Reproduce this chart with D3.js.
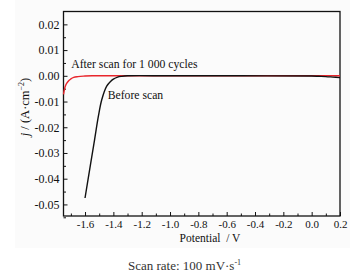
<!DOCTYPE html>
<html>
<head>
<meta charset="utf-8">
<script src="https://cdn.jsdelivr.net/npm/d3@7"></script>
<style>
  body { margin: 0; background: #fff; }
  svg text { font-family: "Liberation Serif", "Times New Roman", serif; fill: #111; }
</style>
</head>
<body>
<div id="chart"></div>
<script>
// values
const beforePotential = [-1.600, -1.563, -1.533, -1.506, -1.482, -1.447, -1.420, -1.400, -1.370, -1.341, -1.300, -1.000, -0.500, 0.000, 0.050, 0.100, 0.150, 0.200];
const beforeCurrent   = [-0.0475, -0.0350, -0.0250, -0.0158, -0.0093, -0.0040, -0.0022, -0.0013, -0.0005, -0.0002, 0.0, 0.0, 0.0, -0.0001, -0.0002, -0.0003, -0.0005, -0.0007];
const afterPotential  = [-1.752, -1.745, -1.735, -1.720, -1.700, -1.680, -1.650, -1.600, -1.550, -1.000, -0.500, 0.000, 0.200];
const afterCurrent    = [-0.0072, -0.0052, -0.0035, -0.0022, -0.0012, -0.0006, -0.0003, -0.0001, 0.0, 0.0, 0.0, 0.0, 0.0];
const xTicks = [-1.6, -1.4, -1.2, -1.0, -0.8, -0.6, -0.4, -0.2, 0.0, 0.2];
const yTicks = [0.02, 0.01, 0.00, -0.01, -0.02, -0.03, -0.04, -0.05];

const W = 363, H = 277;
const margin = {top: 11.5, right: 23, bottom: 61, left: 63.5};
const width = W - margin.left - margin.right;
const height = H - margin.top - margin.bottom;

const svg = d3.select('#chart').append('svg')
    .attr('width', W)
    .attr('height', H);

// faint grey backdrop behind the figure
svg.append('rect')
    .attr('x', 15).attr('y', 0)
    .attr('width', 335).attr('height', 248)
    .attr('fill', '#fbfbfb');

const g = svg.append('g')
    .attr('transform', `translate(${margin.left},${margin.top})`);

const x = d3.scaleLinear().domain([-1.752, 0.2]).range([0, width]);
const y = d3.scaleLinear().domain([-0.0545, 0.025]).range([height, 0]);

// minor ticks (inward)
const xMinor = d3.range(-1.7, 0.2, 0.2);
const yMinor = d3.range(-0.055, 0.025, 0.01);

g.append('g')
    .attr('transform', `translate(0,${height})`)
    .call(d3.axisBottom(x).tickValues(xTicks).tickSizeInner(-4).tickSizeOuter(0).tickPadding(4))
    .call(a => a.select('.domain').remove())
    .call(a => a.selectAll('text').attr('font-size', '11px').text(d => d3.format('.1f')(d).replace('−', '-')));

g.append('g')
    .attr('transform', `translate(0,${height})`)
    .call(d3.axisBottom(x).tickValues(xMinor).tickSizeInner(-2.5).tickSizeOuter(0).tickFormat(''))
    .call(a => a.select('.domain').remove());

g.append('g')
    .call(d3.axisLeft(y).tickValues(yTicks).tickSizeInner(-4).tickSizeOuter(0).tickPadding(4))
    .call(a => a.select('.domain').remove())
    .call(a => a.selectAll('text').attr('font-size', '12px').text(d => d3.format('.2f')(d).replace('−', '-')));

g.append('g')
    .call(d3.axisLeft(y).tickValues(yMinor).tickSizeInner(-2.5).tickSizeOuter(0).tickFormat(''))
    .call(a => a.select('.domain').remove());

g.selectAll('.tick line').attr('stroke', '#111').attr('stroke-width', 1);

// frame
g.append('rect')
    .attr('width', width).attr('height', height)
    .attr('fill', 'none').attr('stroke', '#111').attr('stroke-width', 1.3);

const line = d3.line()
    .x(d => x(d[0]))
    .y(d => y(d[1]))
    .curve(d3.curveMonotoneX);

g.append('path')
    .datum(afterPotential.map((p, i) => [p, afterCurrent[i]]))
    .attr('d', line)
    .attr('fill', 'none')
    .attr('stroke', '#e8262c')
    .attr('stroke-width', 1.4);

g.append('path')
    .datum(beforePotential.map((p, i) => [p, beforeCurrent[i]]))
    .attr('d', d3.line().x(d => x(d[0])).y(d => y(d[1])).curve(d3.curveCatmullRom))
    .attr('fill', 'none')
    .attr('stroke', '#111')
    .attr('stroke-width', 1.4);

// annotations
g.append('text')
    .attr('x', x(-1.697)).attr('y', y(0.0030))
    .attr('font-size', '11.7px')
    .text('After scan for 1 000 cycles');

g.append('text')
    .attr('x', x(-1.440)).attr('y', y(-0.0090))
    .attr('font-size', '11.7px')
    .text('Before scan');

// axis titles
svg.append('text')
    .attr('x', 210).attr('y', 241.5)
    .attr('text-anchor', 'middle')
    .attr('font-size', '11.5px')
    .attr('xml:space', 'preserve')
    .text('Potential  / V');

const yl = svg.append('text')
    .attr('transform', 'translate(29,107) rotate(-90)')
    .attr('text-anchor', 'middle')
    .attr('font-size', '12.5px');
yl.append('tspan').attr('font-style', 'italic').text('j');
yl.append('tspan').text(' / (A·cm');
yl.append('tspan').attr('font-size', '8px').attr('dy', -5).text('−2');
yl.append('tspan').attr('dy', 5).text(')');

// caption
const cap = svg.append('text')
    .attr('x', 184.5).attr('y', 270)
    .attr('text-anchor', 'middle')
    .attr('font-size', '13px')
    .style('fill', '#333');
cap.append('tspan').text('Scan rate: 100 mV·s');
cap.append('tspan').attr('font-size', '8px').attr('dy', -5).text('-1');
</script>
</body>
</html>
